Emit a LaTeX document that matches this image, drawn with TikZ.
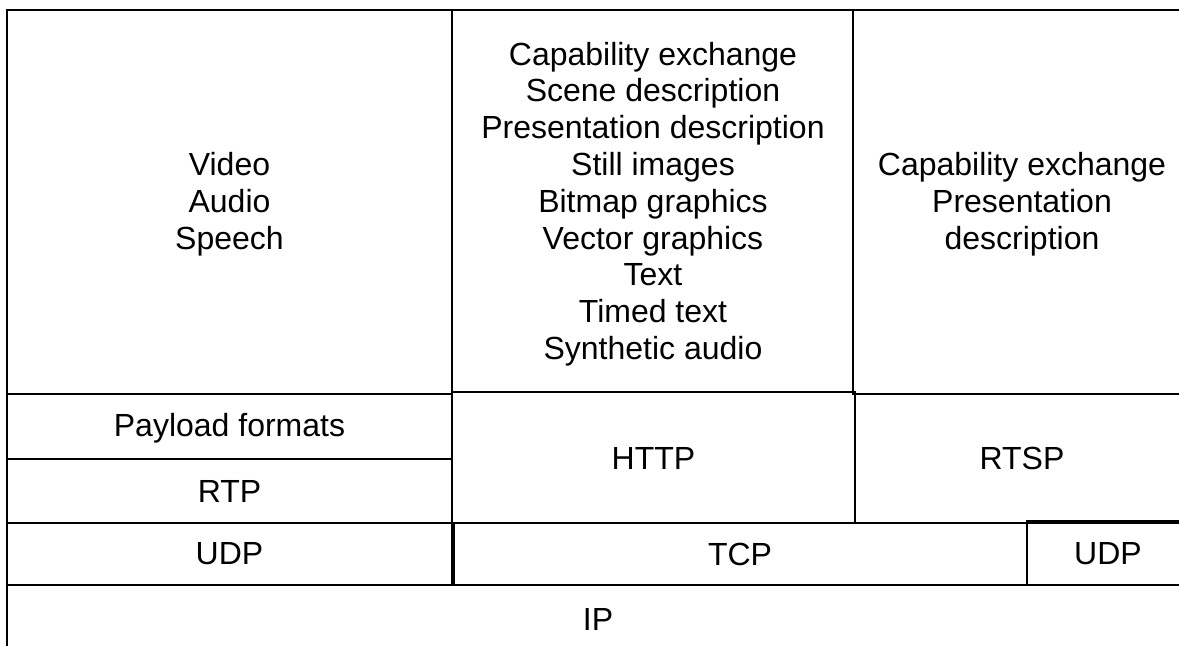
\documentclass[tikz,border=0pt]{standalone}
\usepackage{fontspec}
\setmainfont{Liberation Sans}
\begin{document}
\begin{tikzpicture}[x=0.5pt,y=-0.5pt,
  layer/.style={draw,line width=1pt},
  lbl/.style={align=center,inner sep=0pt,font=\fontsize{16}{18.4}\selectfont}]
\clip (0,0) rectangle (1179,646);
\fill[white] (0,0) rectangle (1179,646);

\draw[layer] (7,10) 	rectangle (452,394);
\draw[layer] (452,10) 	rectangle (853,392);
\draw[layer] (853,10) 	rectangle (1192,394);
\draw[layer] (7,394) 	rectangle (452,459);
\draw[layer] (7,459) 	rectangle (452,523);
\draw[layer] (452,392) 	rectangle (855,523);
\draw[layer] (855,394) 	rectangle (1192,523);
\draw[layer] (7,523) 	rectangle (452,585);
\draw[layer] (454,523) 	rectangle (1027,585);
\draw[layer] (1027,521) rectangle (1192,585);
\draw[layer] (7,585) 	rectangle (1192,660);

\node[lbl] (media) at (229.5,204) {Video\\Audio\\Speech};
\node[lbl] (content) at (653,204) {Capability exchange\\Scene description\\Presentation description\\Still images\\Bitmap graphics\\Vector graphics\\Text\\Timed text\\Synthetic audio};
\node[lbl] (control) at (1022,204) {Capability exchange\\Presentation\\description};
\node[lbl] (payload) at (229.5,428) {Payload formats};
\node[lbl] (rtp) at (229.5,491) {RTP};
\node[lbl] (udpa) at (229.5,554) {UDP};
\node[lbl] (http) at (653.5,458) {HTTP};
\node[lbl] (rtsp) at (1022,458) {RTSP};
\node[lbl] (tcp) at (740,554) {TCP};
\node[lbl] (udpb) at (1108,554) {UDP};
\node[lbl] (ip) at (598,619) {IP};
\end{tikzpicture}
\end{document}
